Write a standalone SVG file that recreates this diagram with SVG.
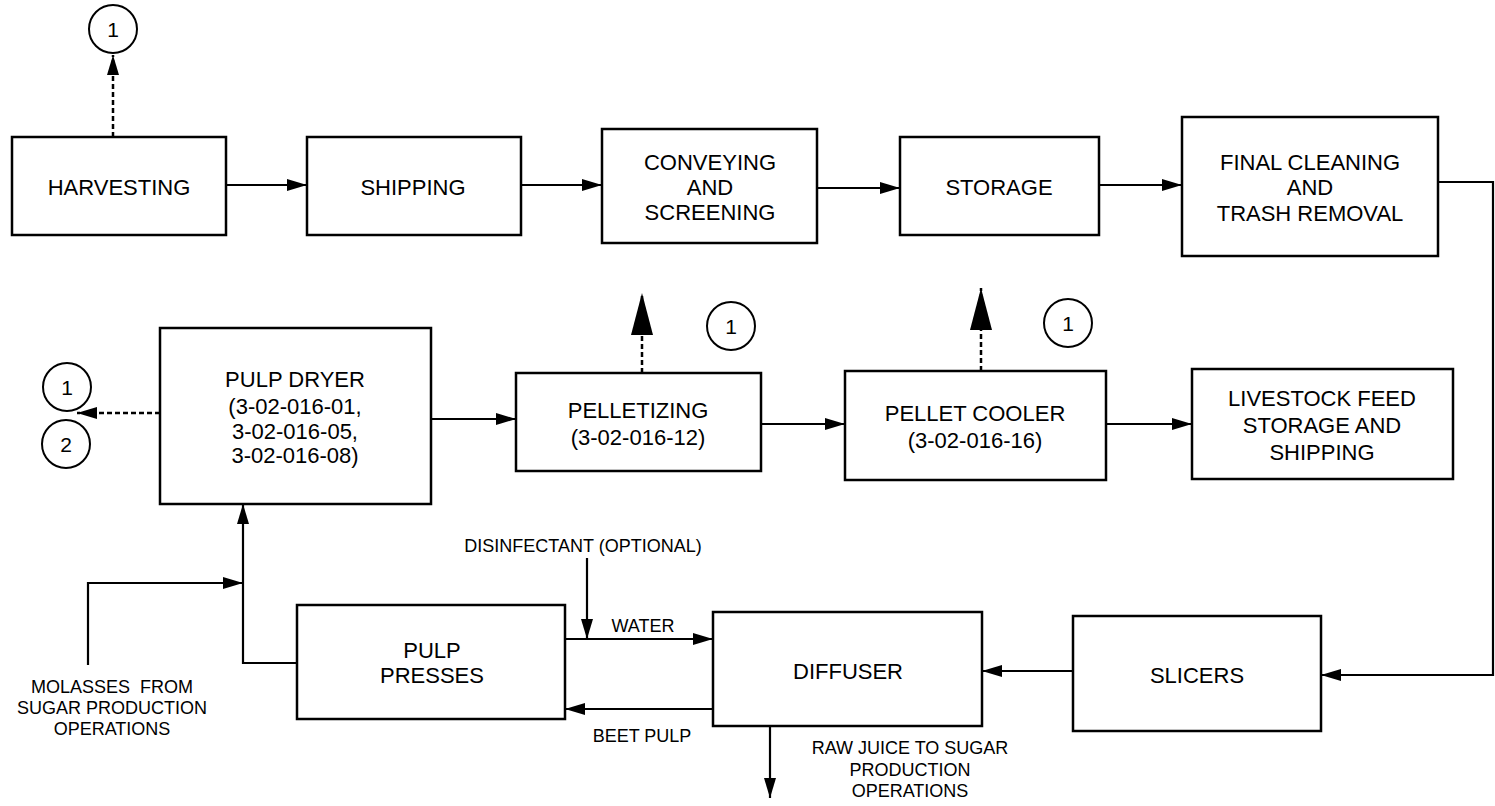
<svg xmlns="http://www.w3.org/2000/svg" width="1495" height="806" viewBox="0 0 1495 806">
<style>
.box{fill:#fff;stroke:#000;stroke-width:2.5}
.t{font-family:"Liberation Sans",Arial,sans-serif;font-size:22px;text-anchor:middle;fill:#000}
.s{font-family:"Liberation Sans",Arial,sans-serif;font-size:18px;text-anchor:middle;fill:#000}
.c{fill:#fff;stroke:#000;stroke-width:2}
.ln{fill:none;stroke:#000;stroke-width:2.2}
.dl{fill:none;stroke:#000;stroke-width:2.5;stroke-dasharray:5 3}
</style>
<defs>
<marker id="a" viewBox="0 0 20 12" refX="20" refY="6" markerWidth="20" markerHeight="12" markerUnits="userSpaceOnUse" orient="auto"><path d="M0,0 L20,6 L0,12 Z" fill="#000"/></marker>
<marker id="b" viewBox="0 0 42 22" refX="42" refY="11" markerWidth="42" markerHeight="22" markerUnits="userSpaceOnUse" orient="auto"><path d="M0,0 L42,11 L0,22 Z" fill="#000"/></marker>
</defs>
<g id="connectors">
<path class="ln" d="M226,185 H307" marker-end="url(#a)"/>
<path class="ln" d="M521,185 H602" marker-end="url(#a)"/>
<path class="ln" d="M817,188 H900" marker-end="url(#a)"/>
<path class="ln" d="M1099,185 H1182" marker-end="url(#a)"/>
<path class="ln" d="M1438,182 H1493 V675 H1321" marker-end="url(#a)"/>
<path class="ln" d="M1073,671 H982" marker-end="url(#a)"/>
<path class="ln" d="M565,639 H713" marker-end="url(#a)"/>
<path class="ln" d="M587,558 V639" marker-end="url(#a)"/>
<path class="ln" d="M713,709 H565" marker-end="url(#a)"/>
<path class="ln" d="M770,726 V798" marker-end="url(#a)"/>
<path class="ln" d="M297,663 H243 V504" marker-end="url(#a)"/>
<path class="ln" d="M88,665 V583 H243" marker-end="url(#a)"/>
<path class="ln" d="M431,419 H516" marker-end="url(#a)"/>
<path class="ln" d="M761,424 H845" marker-end="url(#a)"/>
<path class="ln" d="M1106,424 H1192" marker-end="url(#a)"/>
<path class="dl" d="M113,137 V55" marker-end="url(#a)"/>
<path class="dl" d="M160,413 H77" marker-end="url(#a)"/>
<path class="dl" d="M642,373 V293" marker-end="url(#b)"/>
<path class="dl" d="M981,371 V288" marker-end="url(#b)"/>
</g>
<g id="harvesting"><rect class="box" x="12" y="137" width="214" height="98"/><text class="t" x="119" y="195">HARVESTING</text></g>
<g id="shipping"><rect class="box" x="307" y="137" width="214" height="98"/><text class="t" x="413" y="195">SHIPPING</text></g>
<g id="conveying"><rect class="box" x="602" y="129" width="215" height="114"/><text class="t" x="710" y="170">CONVEYING</text><text class="t" x="710" y="195">AND</text><text class="t" x="710" y="220">SCREENING</text></g>
<g id="storage"><rect class="box" x="900" y="137" width="199" height="98"/><text class="t" x="999" y="195">STORAGE</text></g>
<g id="final-cleaning"><rect class="box" x="1182" y="117" width="256" height="139"/><text class="t" x="1310" y="170">FINAL CLEANING</text><text class="t" x="1310" y="195">AND</text><text class="t" x="1310" y="221">TRASH REMOVAL</text></g>
<g id="pulp-dryer"><rect class="box" x="160" y="328" width="271" height="176"/><text class="t" x="295" y="387">PULP DRYER</text><text class="t" x="295" y="414">(3-02-016-01,</text><text class="t" x="295" y="439">3-02-016-05,</text><text class="t" x="295" y="463">3-02-016-08)</text></g>
<g id="pelletizing"><rect class="box" x="516" y="373" width="245" height="98"/><text class="t" x="638" y="418">PELLETIZING</text><text class="t" x="638" y="445">(3-02-016-12)</text></g>
<g id="pellet-cooler"><rect class="box" x="845" y="371" width="261" height="109"/><text class="t" x="975" y="421">PELLET COOLER</text><text class="t" x="975" y="448">(3-02-016-16)</text></g>
<g id="livestock"><rect class="box" x="1192" y="369" width="261" height="110"/><text class="t" x="1322" y="406">LIVESTOCK FEED</text><text class="t" x="1322" y="433">STORAGE AND</text><text class="t" x="1322" y="460">SHIPPING</text></g>
<g id="pulp-presses"><rect class="box" x="297" y="605" width="268" height="114"/><text class="t" x="432" y="658">PULP</text><text class="t" x="432" y="683">PRESSES</text></g>
<g id="diffuser"><rect class="box" x="713" y="612" width="269" height="114"/><text class="t" x="848" y="679">DIFFUSER</text></g>
<g id="slicers"><rect class="box" x="1073" y="616" width="248" height="115"/><text class="t" x="1197" y="683">SLICERS</text></g>
<g id="circle-top"><circle class="c" cx="113" cy="29" r="24"/><text class="t" x="113" y="37" style="font-size:21px">1</text></g>
<g id="circle-left-1"><circle class="c" cx="67" cy="387" r="24"/><text class="t" x="67" y="395" style="font-size:21px">1</text></g>
<g id="circle-left-2"><circle class="c" cx="66" cy="444" r="24"/><text class="t" x="66" y="452" style="font-size:21px">2</text></g>
<g id="circle-pelletizing"><circle class="c" cx="731" cy="326" r="24"/><text class="t" x="731" y="334" style="font-size:21px">1</text></g>
<g id="circle-cooler"><circle class="c" cx="1068" cy="323" r="24"/><text class="t" x="1068" y="331" style="font-size:21px">1</text></g>
<g id="labels">
<text class="s" x="583" y="552">DISINFECTANT (OPTIONAL)</text>
<text class="s" x="643" y="632">WATER</text>
<text class="s" x="642" y="742">BEET PULP</text>
<text class="s" x="910" y="754">RAW JUICE TO SUGAR</text>
<text class="s" x="910" y="776">PRODUCTION</text>
<text class="s" x="910" y="797">OPERATIONS</text>
<text class="s" x="112" y="693">MOLASSES&#160; FROM</text>
<text class="s" x="112" y="714">SUGAR PRODUCTION</text>
<text class="s" x="112" y="735">OPERATIONS</text>
</g>
</svg>
